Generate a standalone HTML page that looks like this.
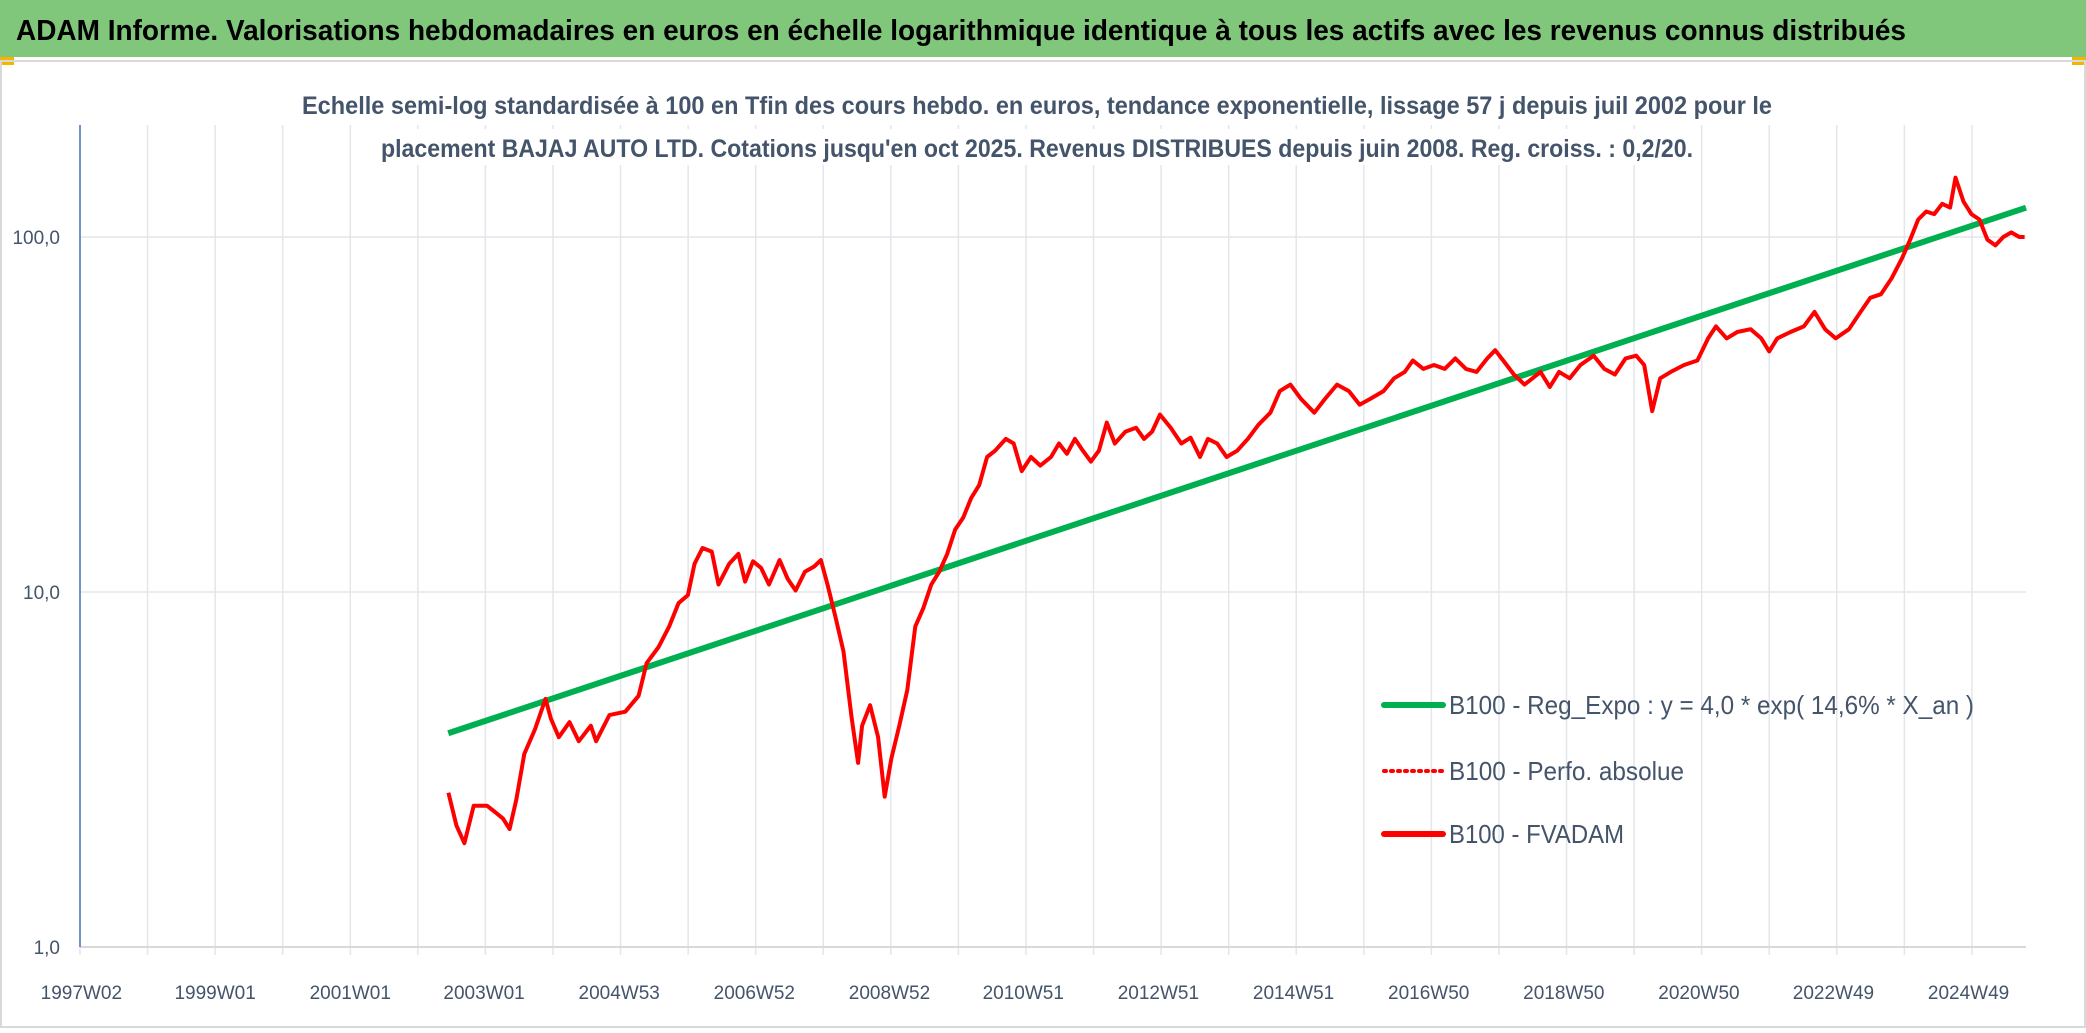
<!DOCTYPE html>
<html><head><meta charset="utf-8"><style>
html,body{margin:0;padding:0;background:#fff;}
svg{display:block;}
text{font-family:"Liberation Sans Narrow","Liberation Sans",sans-serif;}
</style></head><body>
<svg id="chart" width="2086" height="1033" viewBox="0 0 2086 1033" xmlns="http://www.w3.org/2000/svg">
<rect x="0" y="0" width="2086" height="1033" fill="#fff"/>
<rect x="0" y="0" width="2086" height="57" fill="#80c67b"/>
<text x="16" y="40" font-size="29" font-weight="bold" fill="#000" textLength="1890" lengthAdjust="spacingAndGlyphs">ADAM Informe. Valorisations hebdomadaires en euros en échelle logarithmique identique à tous les actifs avec les revenus connus distribués</text>
<rect x="0" y="57" width="14" height="8" fill="#f5b400"/>
<rect x="2072" y="57" width="14" height="8" fill="#f5b400"/>
<rect x="1" y="61" width="2084" height="966" fill="none" stroke="#d9d9d9" stroke-width="2"/>
<g id="grid"></g>
<g id="axes"></g>
<g id="series"></g>
<g id="legend"></g>
<rect x="290" y="85" width="1495" height="36" fill="#fff"/>
<rect x="375" y="129" width="1325" height="36" fill="#fff"/>
<text x="1037" y="114" font-size="25" font-weight="bold" fill="#44546a" text-anchor="middle" textLength="1470" lengthAdjust="spacingAndGlyphs">Echelle semi-log standardisée à 100 en Tfin des cours hebdo. en euros, tendance exponentielle, lissage 57 j depuis juil 2002 pour le</text>
<text x="1037" y="157" font-size="25" font-weight="bold" fill="#44546a" text-anchor="middle" textLength="1312" lengthAdjust="spacingAndGlyphs">placement BAJAJ AUTO LTD. Cotations jusqu'en oct 2025. Revenus DISTRIBUES depuis juin 2008. Reg. croiss. : 0,2/20.</text>
</svg>
<script>
const yearTicks = [1997.02,1999.0,2001.0,2002.98,2004.98,2006.98,2008.98,2010.96,2012.96,2014.96,2016.96,2018.96,2020.96,2022.95,2024.95];
const yearTickLabels = ["1997W02","1999W01","2001W01","2003W01","2004W53","2006W52","2008W52","2010W51","2012W51","2014W51","2016W50","2018W50","2020W50","2022W49","2024W49"];
const valueTicks = [1,10,100];
const valueTickLabels = ["1,0","10,0","100,0"];
const trendStart = 2002.45, trendEnd = 2025.8, trendA = 4.0, trendRate = 0.146;
const dispX = [337,343,349,356,366,372,378,383,388,394,402,410,414,420,428,435,444,448,458,470,480,486,495,503,510,517,522,528,535,540,548,555,560,566,572,578,586,592,598,605,612,617,622,628,634,640,645,648,654,660,665,670,676,682,688,694,700,706,712,718,724,730,736,742,748,756,762,768,775,782,790,796,802,808,814,820,826,832,838,846,854,860,866,872,880,888,895,902,908,915,922,930,938,946,955,962,970,978,988,996,1005,1014,1022,1030,1040,1048,1056,1062,1070,1078,1086,1094,1102,1110,1118,1124,1130,1138,1146,1152,1158,1165,1172,1180,1188,1198,1206,1214,1222,1230,1236,1242,1248,1256,1266,1276,1284,1290,1298,1306,1316,1324,1330,1336,1346,1356,1364,1372,1380,1390,1398,1406,1414,1422,1430,1436,1442,1448,1454,1460,1466,1470,1476,1482,1488,1494,1500,1506,1512,1518,1522];
const fvValues = [2.72,2.2,1.96,2.5,2.5,2.4,2.3,2.15,2.6,3.5,4.1,5.0,4.4,3.9,4.3,3.8,4.2,3.8,4.5,4.6,5.1,6.3,7.0,8.0,9.3,9.8,12,13.3,13,10.5,12,12.8,10.7,12.2,11.7,10.5,12.3,10.9,10.1,11.4,11.8,12.3,10.5,8.5,6.8,4.45,3.3,4.2,4.8,3.9,2.65,3.4,4.2,5.3,8.0,9.0,10.5,11.4,12.8,15,16.2,18.4,20,24,25,27,26.2,21.9,24,22.7,24,26.2,24.5,27,25,23.3,25,30,26.2,28.3,29,27,28.3,31.6,29,26.2,27.2,24,27,26.2,24,25,27,29.6,32,36.8,38.4,35,32,35,38.4,36.8,33.7,35,36.8,40,41.7,44.9,42.5,43.6,42.5,45.5,42.5,41.7,45.5,48,44.9,41,38.4,40,41.7,37.8,41.7,40,43.6,46.3,42.5,41,45.5,46.3,43.6,32.3,40,41.7,43.6,44.9,51.8,56,51.8,54,55,51.8,47.6,51.8,54,56,61.5,55,51.8,55,61,67.4,69,76.5,87.3,98.3,112,118,116,124,121,147,126,116,112,98.3,94.7,100,103,100,100];
const fvYears = dispX.map(d => 1997 + (d - 60) / 50.8);

const NS = "http://www.w3.org/2000/svg";
const X0 = 80, X1 = 2026, Y1 = 947, DEC = 355;
const yearMin = 1997.0, yearMax = 2025.8;
function xs(yr){ return X0 + (yr - yearMin) / (yearMax - yearMin) * (X1 - X0); }
function ys(v){ return Y1 - Math.log10(v) * DEC; }
function mk(tag, attrs, parent){ const e = document.createElementNS(NS, tag); for (const k in attrs) e.setAttribute(k, attrs[k]); parent.appendChild(e); return e; }
const grid = document.getElementById('grid'), axes = document.getElementById('axes'), series = document.getElementById('series'), legend = document.getElementById('legend');

for (let y = 1997; y <= 2025; y++) {
  const l = mk('line', {x1: xs(y), x2: xs(y), y1: 125, y2: Y1 + 8, stroke: '#e3e6ea', 'stroke-width': 1.5}, grid);
  
  
}
valueTicks.forEach((v, i) => {
  const l = mk('line', {x1: X0, x2: X1, y1: ys(v), y2: ys(v), stroke: '#e3e6ea', 'stroke-width': 1.5}, grid);
  
  
  const t = mk('text', {x: X0 - 20, y: ys(v) + 7, 'font-size': 19, fill: '#44546a', 'text-anchor': 'end'}, axes);
  t.textContent = valueTickLabels[i];
  
  
});
const xa = mk('line', {x1: X0, x2: X1, y1: Y1, y2: Y1, stroke: '#d9d9d9', 'stroke-width': 2}, axes);


const ya = mk('line', {x1: X0, x2: X0, y1: 125, y2: Y1, stroke: '#4472c4', 'stroke-width': 1.5}, axes);


yearTicks.forEach((yr, i) => {
  const t = mk('text', {x: xs(yr), y: 999, 'font-size': 19, fill: '#44546a', 'text-anchor': 'middle'}, axes);
  t.textContent = yearTickLabels[i];
  
  
});

const tl = mk('line', {x1: xs(trendStart), y1: ys(trendA), x2: xs(trendEnd), y2: ys(trendA * Math.exp(trendRate * (trendEnd - trendStart))), stroke: '#00b050', 'stroke-width': 6}, series);


const pts = fvYears.map((yr, i) => xs(yr).toFixed(1) + ',' + ys(fvValues[i]).toFixed(1)).join(' ');
const fl = mk('polyline', {points: pts, fill: 'none', stroke: '#ff0000', 'stroke-width': 4, 'stroke-linejoin': 'round'}, series);



const legItems = [
  {y: 705, color: '#00b050', dash: null, label: 'B100 - Reg_Expo : y = 4,0 * exp( 14,6% *  X_an )', name: 'legend-entry-reg-expo', w: 525},
  {y: 771, color: '#ff0000', dash: '2 5', label: 'B100 - Perfo. absolue', name: 'legend-entry-perfo-absolue', w: 235},
  {y: 834, color: '#ff0000', dash: null, label: 'B100 - FVADAM', name: 'legend-entry-fvadam', w: 175}
];
legItems.forEach(it => {
  const g = mk('g', {}, legend);
  
  
  const a = {x1: 1384, x2: 1443, y1: it.y, y2: it.y, stroke: it.color, 'stroke-width': it.dash ? 4 : 6, 'stroke-linecap': 'round'};
  if (it.dash) a['stroke-dasharray'] = it.dash;
  mk('line', a, g);
  const t = mk('text', {x: 1449, y: it.y + 9, 'font-size': 26, fill: '#44546a', textLength: it.w, lengthAdjust: 'spacingAndGlyphs'}, g);
  t.textContent = it.label;
});
</script>
</body></html>
